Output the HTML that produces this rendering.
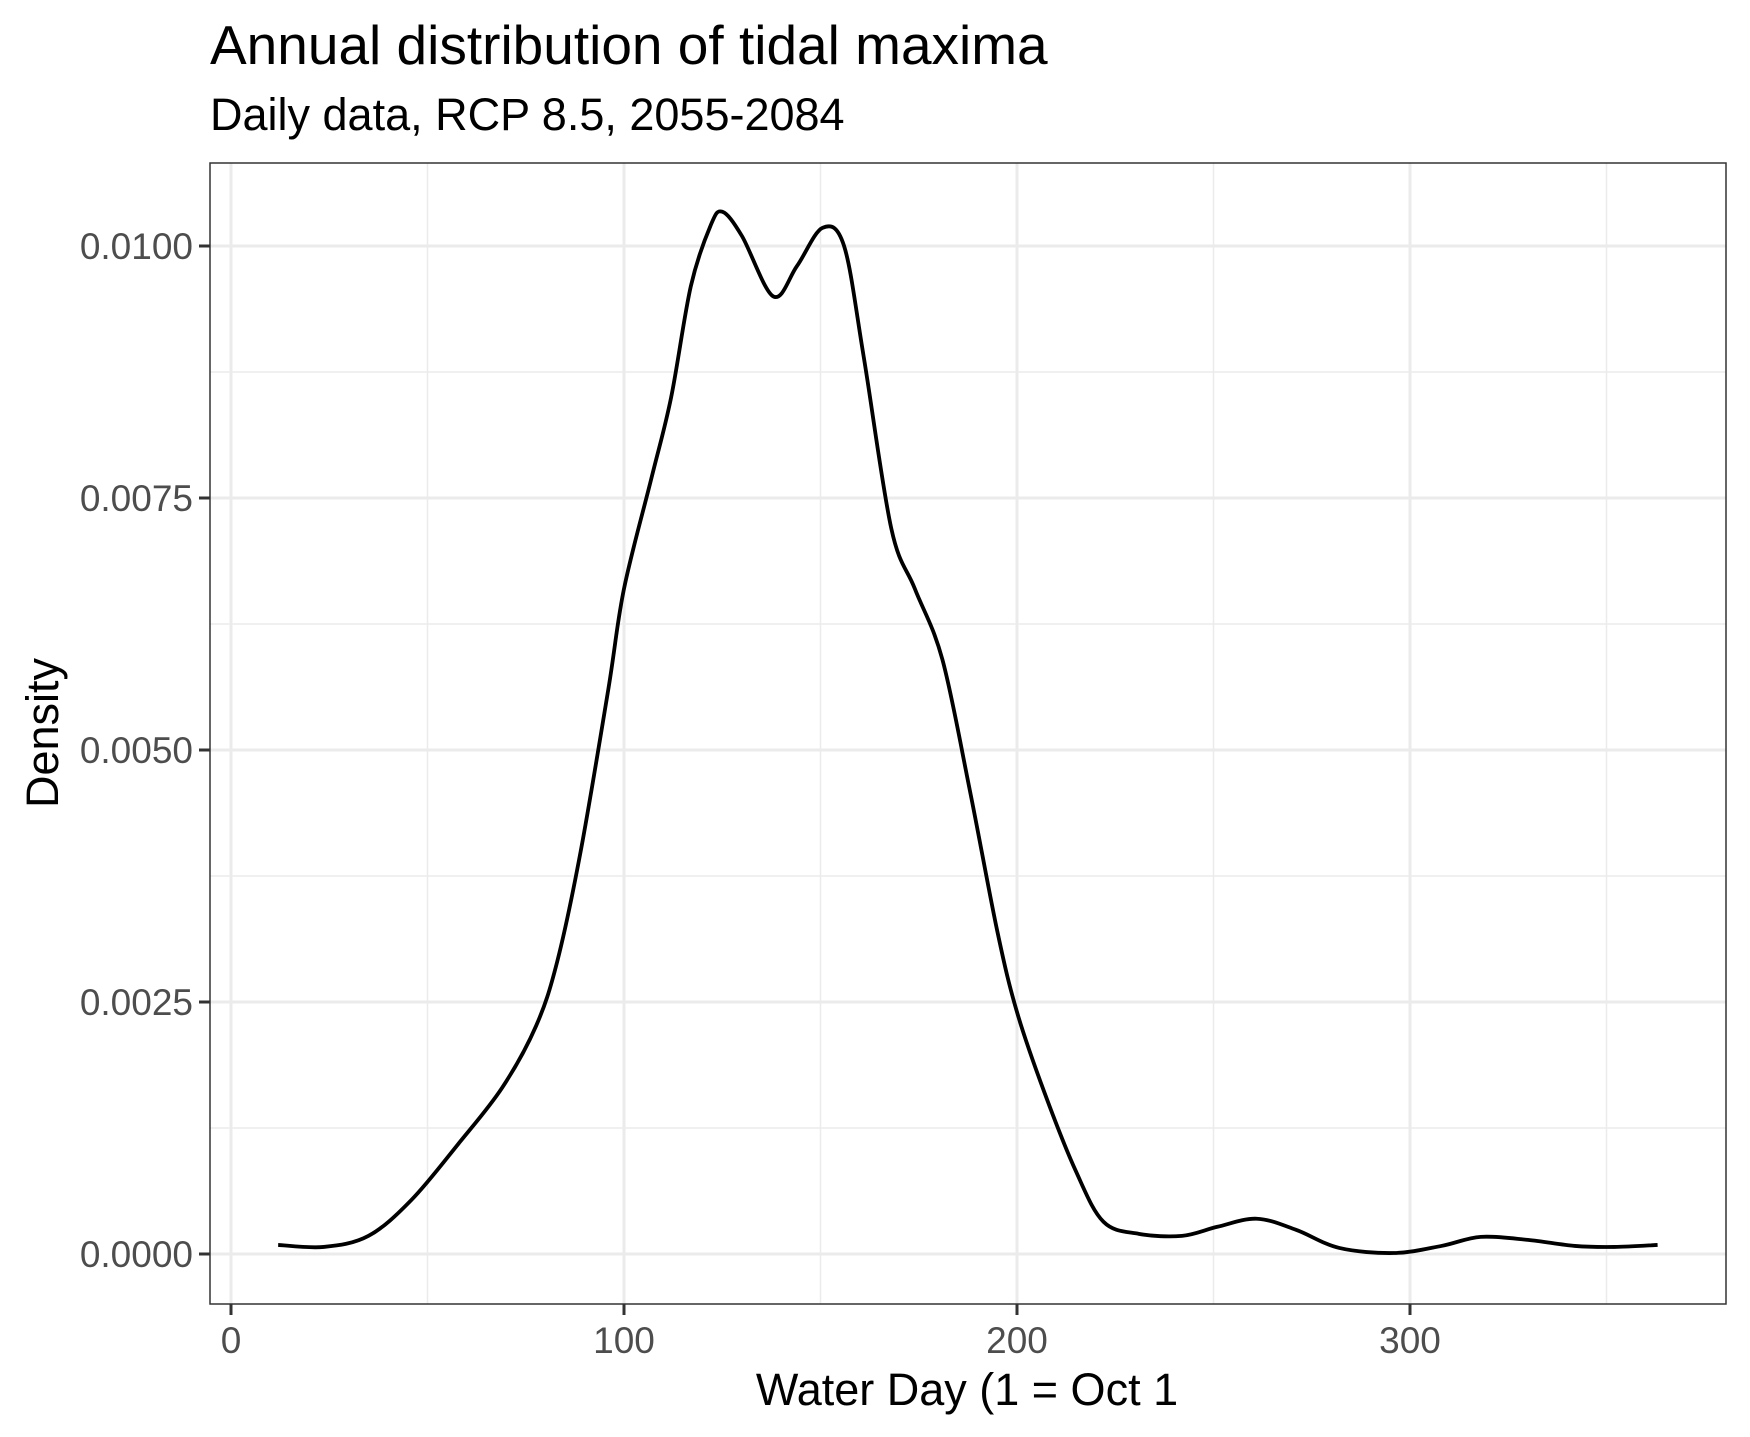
<!DOCTYPE html>
<html><head><meta charset="utf-8"><style>
body{margin:0;background:#fff;}
svg{display:block;font-family:"Liberation Sans",Arial,sans-serif;}
</style></head><body>
<svg id="chart" width="1750" height="1437" viewBox="0 0 1750 1437">
<text x="210" y="64" font-size="55" fill="#000">Annual distribution of tidal maxima</text>
<text x="210" y="130" font-size="45" fill="#000">Daily data, RCP 8.5, 2055-2084</text>
<rect x="210" y="163" width="1516" height="1141" fill="#fff"/>
<g id="grid"></g>
<path id="curve" fill="none" stroke="#000" stroke-width="3.8"/>
<rect x="210" y="163" width="1516" height="1141" fill="none" stroke="#333" stroke-width="1.5"/>
<g id="axes"></g>
<text x="967" y="1405" font-size="45" text-anchor="middle" fill="#000">Water Day (1 = Oct 1</text>
<text transform="translate(58,733) rotate(-90)" font-size="45" text-anchor="middle" fill="#000">Density</text>
</svg>
<script>
const days=[12,23.6,35,46,58,69,77.6,83,89,96,100,107,112,117,122,125,130,138,144,150.5,156,161,168,174,181,188,195,200,207,215,222,231,242,251,261,271,282,296,308,318,330,342,352,363];
const density=[0.00009,0.00007,0.00018,0.00054,0.0011,0.00165,0.00226,0.0029,0.0040,0.0056,0.0066,0.0077,0.0085,0.0096,0.0102,0.01034,0.0101,0.0095,0.0098,0.01018,0.0100,0.0089,0.0072,0.0066,0.0059,0.0046,0.0032,0.0024,0.0016,0.00082,0.00032,0.0002,0.00018,0.00027,0.00035,0.00024,0.00006,0.00001,0.00008,0.00017,0.00014,0.00008,0.00007,0.00009];
const xTicks=[0,100,200,300];
const xMinor=[50,150,250,350];
const yTicks=[0,0.0025,0.005,0.0075,0.01];
const yTickLabels=["0.0000","0.0025","0.0050","0.0075","0.0100"];
const yMinor=[0.00125,0.00375,0.00625,0.00875];
const X=d=>231+d*3.93;
const Y=v=>1254-v*100800;
const NS="http://www.w3.org/2000/svg";
const grid=document.getElementById('grid'),axes=document.getElementById('axes');
function ln(p,x1,y1,x2,y2,c,w){const l=document.createElementNS(NS,'line');l.setAttribute('x1',x1);l.setAttribute('y1',y1);l.setAttribute('x2',x2);l.setAttribute('y2',y2);l.setAttribute('stroke',c);l.setAttribute('stroke-width',w);p.appendChild(l);return l;}
function tx(p,x,y,s,a){const t=document.createElementNS(NS,'text');t.setAttribute('x',x);t.setAttribute('y',y);t.setAttribute('font-size',37);t.setAttribute('fill','#4d4d4d');t.setAttribute('text-anchor',a);t.textContent=s;p.appendChild(t);return t;}
xMinor.forEach(v=>{const l=ln(grid,X(v),163,X(v),1304,'#ebebeb',1.5);

});
yMinor.forEach(v=>{const l=ln(grid,210,Y(v),1726,Y(v),'#ebebeb',1.5);

});
xTicks.forEach(v=>{const l=ln(grid,X(v),163,X(v),1304,'#ebebeb',3);


const t=ln(axes,X(v),1304,X(v),1315,'#333',3);


const s=tx(axes,X(v),1353,String(v),'middle');

});
yTicks.forEach((v,i)=>{const l=ln(grid,210,Y(v),1726,Y(v),'#ebebeb',3);


const t=ln(axes,199,Y(v),210,Y(v),'#333',3);


const s=tx(axes,193,Y(v)+13,yTickLabels[i],'end');

});
const P=days.map((d,i)=>[X(d),Y(density[i])]);
let dstr='M'+P[0][0]+','+P[0][1];
for(let i=0;i<P.length-1;i++){const p0=P[Math.max(0,i-1)],p1=P[i],p2=P[i+1],p3=P[Math.min(P.length-1,i+2)];
dstr+=' C'+(p1[0]+(p2[0]-p0[0])/6)+','+(p1[1]+(p2[1]-p0[1])/6)+' '+(p2[0]-(p3[0]-p1[0])/6)+','+(p2[1]-(p3[1]-p1[1])/6)+' '+p2[0]+','+p2[1];}
document.getElementById('curve').setAttribute('d',dstr);
</script>
</body></html>
